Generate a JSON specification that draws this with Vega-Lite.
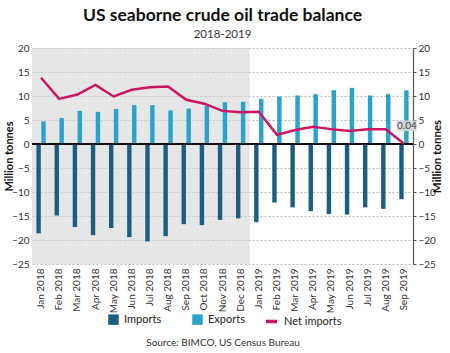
{
  "$schema": "https://vega.github.io/schema/vega-lite/v6.json",
  "width": 381,
  "height": 216,
  "autosize": {"type": "none"},
  "padding": {"left": 32, "top": 48, "right": 37, "bottom": 89},
  "background": "white",
  "title": {
    "text": "US seaborne crude oil trade balance",
    "subtitle": "2018-2019",
    "frame": "group",
    "anchor": "middle",
    "font": "Lato",
    "fontSize": 17.5,
    "fontWeight": "bold",
    "color": "#111111",
    "subtitleFont": "Lato",
    "subtitleFontSize": 11.5,
    "subtitleColor": "#333333",
    "subtitlePadding": 4,
    "offset": 3
  },
  "data": {
    "values": [
      {"month": "Jan 2018", "Imports": -18.6, "Exports": 4.7, "Net": 13.8},
      {"month": "Feb 2018", "Imports": -14.9, "Exports": 5.4, "Net": 9.4},
      {"month": "Mar 2018", "Imports": -17.3, "Exports": 6.9, "Net": 10.3},
      {"month": "Apr 2018", "Imports": -19.0, "Exports": 6.7, "Net": 12.3},
      {"month": "May 2018", "Imports": -17.5, "Exports": 7.3, "Net": 9.9},
      {"month": "Jun 2018", "Imports": -19.4, "Exports": 8.1, "Net": 11.3},
      {"month": "Jul 2018", "Imports": -20.3, "Exports": 8.1, "Net": 11.8},
      {"month": "Aug 2018", "Imports": -19.2, "Exports": 7.0, "Net": 12.0},
      {"month": "Sep 2018", "Imports": -16.7, "Exports": 7.4, "Net": 9.2},
      {"month": "Oct 2018", "Imports": -16.9, "Exports": 8.0, "Net": 8.4},
      {"month": "Nov 2018", "Imports": -15.8, "Exports": 8.7, "Net": 6.9},
      {"month": "Dec 2018", "Imports": -15.5, "Exports": 8.8, "Net": 6.6},
      {"month": "Jan 2019", "Imports": -16.3, "Exports": 9.4, "Net": 6.7},
      {"month": "Feb 2019", "Imports": -12.2, "Exports": 9.9, "Net": 1.9},
      {"month": "Mar 2019", "Imports": -13.2, "Exports": 10.1, "Net": 2.9},
      {"month": "Apr 2019", "Imports": -14.0, "Exports": 10.4, "Net": 3.6},
      {"month": "May 2019", "Imports": -14.6, "Exports": 11.2, "Net": 3.1},
      {"month": "Jun 2019", "Imports": -14.7, "Exports": 11.7, "Net": 2.7},
      {"month": "Jul 2019", "Imports": -13.2, "Exports": 10.1, "Net": 3.05},
      {"month": "Aug 2019", "Imports": -13.5, "Exports": 10.4, "Net": 3.05},
      {"month": "Sep 2019", "Imports": -11.5, "Exports": 11.2, "Net": 0.04}
    ]
  },
  "layer": [
    {
      "transform": [{"filter": "test(/2018/, datum.month)"}],
      "mark": {"type": "bar", "color": "#d2d2d2", "opacity": 0.55},
      "encoding": {
        "x": {"field": "month", "type": "nominal", "sort": null, "title": "Source: BIMCO, US Census Bureau", "scale": {"paddingInner": 0, "paddingOuter": 0}},
        "y": {
          "datum": 20, "type": "quantitative",
          "scale": {"domain": [-25, 20], "nice": false},
          "axis": {
            "orient": "left", "values": [-25, -20, -15, -10, -5, 0, 5, 10, 15, 20],
            "grid": true, "gridDash": [2, 2], "gridColor": "#b8b8b8", "gridWidth": 1,
            "domain": false, "ticks": false, "labelPadding": 3,
            "title": "Million tonnes", "titleX": -23, "titleBaseline": "middle", "titleFontSize": 11
          }
        },
        "y2": {"datum": -25}
      }
    },
    {
      "transform": [{"fold": ["Imports", "Exports"], "as": ["series", "value"]}],
      "mark": {"type": "bar"},
      "encoding": {
        "x": {"field": "month", "type": "nominal", "sort": null, "title": "Source: BIMCO, US Census Bureau", "scale": {"paddingInner": 0, "paddingOuter": 0}},
        "xOffset": {"field": "series", "type": "nominal", "scale": {"domain": ["Imports", "Exports"], "paddingInner": 0.1, "paddingOuter": 0.9}},
        "y": {
          "field": "value", "type": "quantitative",
          "scale": {"domain": [-25, 20], "nice": false},
          "axis": {
            "orient": "right", "values": [-25, -20, -15, -10, -5, 0, 5, 10, 15, 20],
            "grid": false, "domain": true, "domainColor": "#555555", "domainWidth": 1.2,
            "ticks": true, "tickSize": 3, "tickColor": "#555555", "labelPadding": 2,
            "title": "Million tonnes", "titleAngle": 270, "titlePadding": 7, "titleFontSize": 11.5
          }
        },
        "fill": {
          "field": "series", "type": "nominal",
          "scale": {"domain": ["Imports", "Exports"], "range": ["#1b5e82", "#27a3cc"]},
          "legend": {
            "orient": "none", "legendX": 76, "legendY": 266, "direction": "horizontal",
            "title": null, "symbolType": "square", "symbolSize": 110, "symbolStrokeWidth": 0,
            "columnPadding": 30, "labelFontSize": 11, "labelOffset": 5
          }
        }
      }
    },
    {
      "mark": {"type": "rule", "color": "#111111", "strokeWidth": 1.5},
      "encoding": {
        "y": {"datum": 0, "type": "quantitative", "scale": {"domain": [-25, 20], "nice": false}, "axis": null}
      }
    },
    {
      "mark": {"type": "line", "strokeWidth": 2.5},
      "encoding": {
        "x": {"field": "month", "type": "nominal", "sort": null, "title": "Source: BIMCO, US Census Bureau", "scale": {"paddingInner": 0, "paddingOuter": 0}},
        "y": {"field": "Net", "type": "quantitative", "scale": {"domain": [-25, 20], "nice": false}, "axis": null},
        "stroke": {
          "datum": "Net imports",
          "scale": {"domain": ["Net imports"], "range": ["#cc1462"]},
          "legend": {
            "orient": "none", "legendX": 232, "legendY": 266, "direction": "horizontal",
            "title": null, "symbolType": "stroke", "symbolSize": 120, "symbolStrokeWidth": 3.5,
            "labelFontSize": 11, "labelOffset": 5
          }
        }
      }
    },
    {
      "transform": [{"filter": "datum.month == 'Sep 2019'"}],
      "mark": {"type": "point", "shape": "M-1,-0.55L1,-0.55L1,0.55L-1,0.55Z", "size": 380, "filled": true, "color": "#d6d6d6", "opacity": 0.9, "xOffset": 3, "yOffset": -18},
      "encoding": {
        "x": {"field": "month", "type": "nominal", "sort": null, "title": "Source: BIMCO, US Census Bureau", "scale": {"paddingInner": 0, "paddingOuter": 0}},
        "y": {"field": "Net", "type": "quantitative", "scale": {"domain": [-25, 20], "nice": false}, "axis": null}
      }
    },
    {
      "transform": [{"filter": "datum.month == 'Sep 2019'"}],
      "mark": {"type": "text", "font": "Lato", "fontSize": 10, "color": "#444444", "xOffset": 3, "yOffset": -18},
      "encoding": {
        "x": {"field": "month", "type": "nominal", "sort": null, "title": "Source: BIMCO, US Census Bureau", "scale": {"paddingInner": 0, "paddingOuter": 0}},
        "y": {"field": "Net", "type": "quantitative", "scale": {"domain": [-25, 20], "nice": false}, "axis": null},
        "text": {"field": "Net", "type": "quantitative", "format": ".2f"}
      }
    }
  ],
  "resolve": {"axis": {"y": "independent"}},
  "config": {
    "view": {"stroke": null},
    "font": "Lato",
    "axis": {
      "labelFont": "Lato", "labelColor": "#333333", "labelFontSize": 10,
      "titleFont": "Lato", "titleColor": "#111111", "titleFontSize": 12, "titleFontWeight": "bold"
    },
    "axisX": {
      "labelAngle": -90, "domain": false, "ticks": false, "labelPadding": 4, "labelFontSize": 10,
      "titleFontWeight": "normal", "titleFontSize": 10, "titleColor": "#333333", "titlePadding": 25
    },
    "legend": {"labelFont": "Lato", "labelColor": "#222222"}
  }
}
